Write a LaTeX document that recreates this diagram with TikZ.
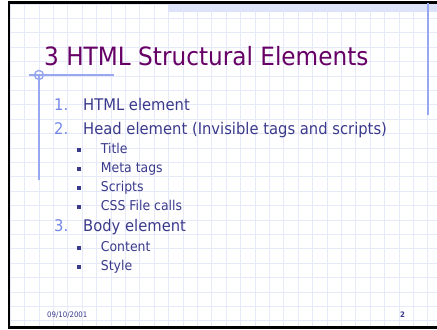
\documentclass[tikz,border=0pt]{standalone}
\usepackage{fontspec}
\setmainfont{DejaVu Sans}[FakeStretch=0.92]
\begin{document}
\begin{tikzpicture}[x=1bp,y=-1bp,
  gridline/.style={draw=gridc,line width=0.6bp},
  deco/.style={draw=decoc,line width=1.4bp},
  ttl/.style={anchor=base west,inner sep=0,text=titlec,font=\fontsize{25.3}{27}\selectfont},
  num/.style={anchor=base west,inner sep=0,text=numc,font=\fontsize{16.1}{18}\selectfont},
  lone/.style={anchor=base west,inner sep=0,text=textc,font=\fontsize{16.1}{18}\selectfont},
  ltwo/.style={anchor=base west,inner sep=0,text=textc,font=\fontsize{13.6}{15}\selectfont},
  bul/.style={fill=textc,minimum size=3.5bp,inner sep=0,draw=none},
  foot/.style={anchor=base west,inner sep=0,text=textc,font=\fontsize{7.6}{9}\selectfont}]
\definecolor{gridc}{HTML}{E6E9F8}
\definecolor{decoc}{HTML}{98A8F0}
\definecolor{titlec}{HTML}{660066}
\definecolor{numc}{HTML}{7486E6}
\definecolor{textc}{HTML}{3A3A8C}
\definecolor{bandc}{HTML}{DCE2F8}
\useasboundingbox (0,0) rectangle (437,329);
\fill[white] (0,0) rectangle (437,329);
% grid
\begin{scope}
\clip (9,3) rectangle (437,327);
\foreach \i in {0,...,30} {\draw[gridline] ({10+14.4*\i},0) -- ({10+14.4*\i},329);}
\foreach \j in {0,...,23} {\draw[gridline] (0,{3.9+14.4*\j}) -- (437,{3.9+14.4*\j});}
\end{scope}
% top band
\fill[bandc] (168,3) rectangle (437,12);
% frame
\draw[black,line width=2.2bp] (437,2.5) -- (9,2.5) -- (9,327.5) -- (437,327.5);
\draw[black,line width=1bp] (8.3,2) -- (8.3,328);
% decorations
\coordinate (hl) at (29,75);
\coordinate (hr) at (114,75);
\coordinate (vt) at (39,75);
\coordinate (vb) at (39,180);
\coordinate (rt) at (428,3);
\coordinate (rb) at (428,115);
\draw[deco] (hl) -- (hr);
\draw[deco] (vt) -- (vb);
\draw[deco] (vt) circle (4.5);
\draw[deco,line width=1.8bp] (rt) -- (rb);
% title
\node[ttl] (title) at (44,65) {3 HTML Structural Elements};
% level one
\node[num] (n1) at (54,110.7) {1.};
\node[lone] (t1) at (83,110.7) {HTML element};
\node[num] (n2) at (54,134) {2.};
\node[lone] (t2) at (83,134) {Head element (Invisible tags and scripts)};
\node[num] (n3) at (54,231.7) {3.};
\node[lone] (t3) at (83,231.7) {Body element};
% level two
\node[bul] (b1) at (79,150) {};
\node[ltwo] (s1) at (100.7,153.3) {Title};
\node[bul] (b2) at (79,169) {};
\node[ltwo] (s2) at (100.7,172) {Meta tags};
\node[bul] (b3) at (79,188) {};
\node[ltwo] (s3) at (100.7,191) {Scripts};
\node[bul] (b4) at (79,207) {};
\node[ltwo] (s4) at (100.7,210) {CSS File calls};
\node[bul] (b5) at (79,248) {};
\node[ltwo] (s5) at (100.7,251) {Content};
\node[bul] (b6) at (79,267) {};
\node[ltwo] (s6) at (100.7,270) {Style};
% footer
\node[foot] (date) at (47,317) {09/10/2001};
\node[foot,font=\fontsize{7.6}{9}\selectfont\bfseries] (page) at (400,317) {2};
\end{tikzpicture}
\end{document}
